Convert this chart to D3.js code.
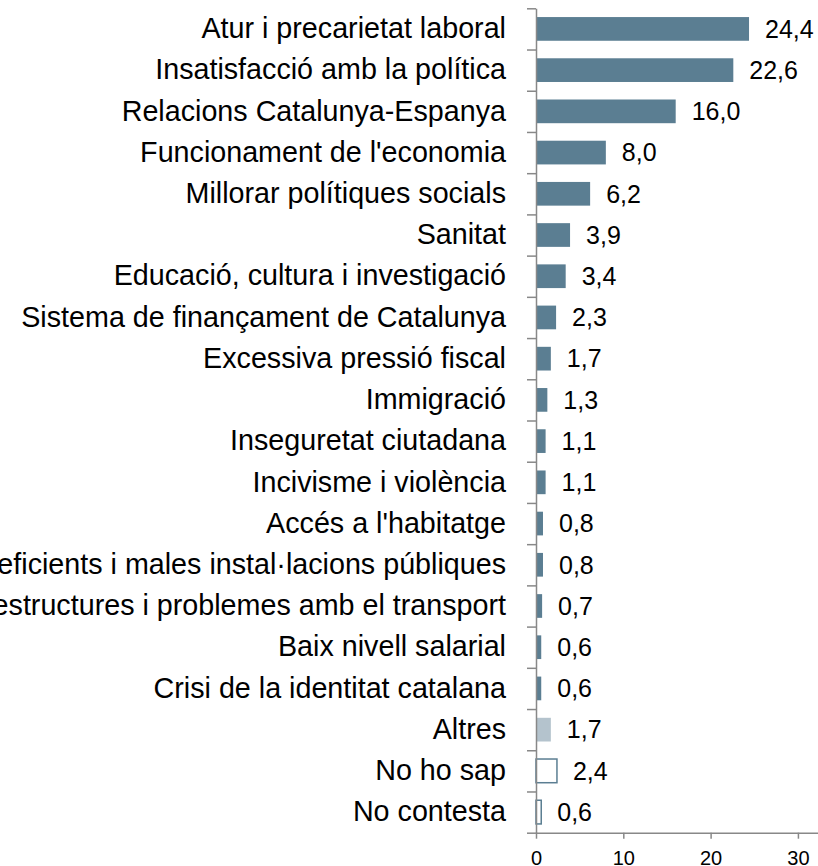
<!DOCTYPE html>
<html>
<head>
<meta charset="utf-8">
<script src="https://cdn.jsdelivr.net/npm/d3@7"></script>
<style>
  body { margin: 0; background: #fff; }
  svg { display: block; font-family: "Liberation Sans", Arial, sans-serif; }
</style>
</head>
<body>
<svg id="chart" width="818" height="866"></svg>
<script>
const categories = [
  "Atur i precarietat laboral",
  "Insatisfacció amb la política",
  "Relacions Catalunya-Espanya",
  "Funcionament de l'economia",
  "Millorar polítiques socials",
  "Sanitat",
  "Educació, cultura i investigació",
  "Sistema de finançament de Catalunya",
  "Excessiva pressió fiscal",
  "Immigració",
  "Inseguretat ciutadana",
  "Incivisme i violència",
  "Accés a l'habitatge",
  "Serveis deficients i males instal·lacions públiques",
  "Infraestructures i problemes amb el transport",
  "Baix nivell salarial",
  "Crisi de la identitat catalana",
  "Altres",
  "No ho sap",
  "No contesta"
];
const values = [24.4, 22.6, 16.0, 8.0, 6.2, 3.9, 3.4, 2.3, 1.7, 1.3, 1.1, 1.1, 0.8, 0.8, 0.7, 0.6, 0.6, 1.7, 2.4, 0.6];
// bar kind: main issues, "Altres", and no answer
const kinds = [
  "main", "main", "main", "main", "main", "main", "main", "main", "main", "main",
  "main", "main", "main", "main", "main", "main", "main", "other", "empty", "empty"
];
const xTicks = [0, 10, 20, 30];

const data = categories.map((c, i) => ({ cat: c, value: values[i], kind: kinds[i] }));

const svg = d3.select("#chart");
const width = +svg.attr("width");

const x0 = 536, plotTop = 8.3, plotBottom = 832.7;
const axisColor = "#888888";
const barColor = "#5b7e92";

const x = d3.scaleLinear().domain([0, 32.3]).range([x0, width]);
const y = d3.scaleBand().domain(categories).range([plotTop, plotBottom]).paddingInner(0.425).paddingOuter(0.2125);
const yIdx = d3.scaleLinear().domain([0, categories.length]).range([plotTop, plotBottom]);

const fmt = v => d3.format(".1f")(v).replace(".", ",");

// bars
svg.append("g").selectAll("rect")
  .data(data)
  .enter().append("rect")
  .attr("x", x(0))
  .attr("y", d => y(d.cat))
  .attr("width", d => x(d.value) - x(0))
  .attr("height", y.bandwidth())
  .attr("fill", d => d.kind === "main" ? barColor : d.kind === "other" ? "#b4c3cd" : "#fff")
  .attr("stroke", d => d.kind === "empty" ? barColor : "none")
  .attr("stroke-width", 1.5);

// value labels
svg.append("g").selectAll("text")
  .data(data)
  .enter().append("text")
  .attr("x", d => x(d.value) + 16)
  .attr("y", d => y(d.cat) + y.bandwidth() / 2)
  .attr("dy", "0.35em")
  .attr("font-size", 25)
  .attr("fill", "#000")
  .text(d => fmt(d.value));

// category boundary ticks on the left axis
const gBound = svg.append("g")
  .attr("transform", `translate(${x0},0)`)
  .call(d3.axisLeft(yIdx).tickValues(d3.range(categories.length + 1)).tickFormat("").tickSize(9).tickSizeOuter(0));
gBound.selectAll("path, line").attr("stroke", axisColor).attr("stroke-width", 1.5);

// category labels
const gCat = svg.append("g")
  .attr("transform", `translate(${x0},0)`)
  .call(d3.axisLeft(y).tickSize(0).tickPadding(30));
gCat.select(".domain").remove();
gCat.selectAll("text")
  .attr("font-size", 28.7)
  .attr("font-family", "Liberation Sans, Arial, sans-serif")
  .attr("fill", "#000");

// x axis
const gx = svg.append("g")
  .attr("transform", `translate(0,${plotBottom})`)
  .call(d3.axisBottom(x).tickValues(xTicks).tickSize(6).tickSizeOuter(0).tickPadding(12));
gx.selectAll("path, line").attr("stroke", axisColor).attr("stroke-width", 1.5);
gx.selectAll("text")
  .attr("font-size", 20)
  .attr("font-family", "Liberation Sans, Arial, sans-serif")
  .attr("fill", "#000");
</script>
</body>
</html>
